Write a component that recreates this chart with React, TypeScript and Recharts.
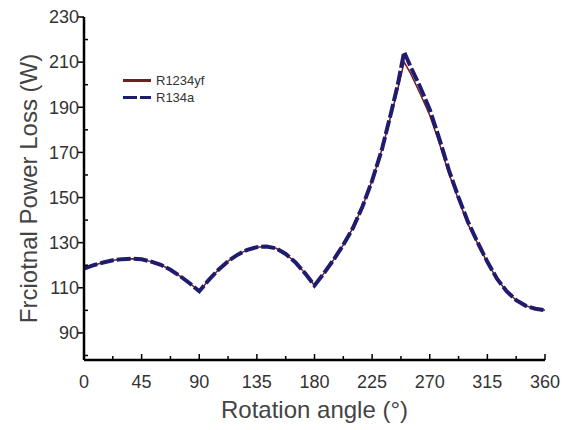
import { Legend, Line, LineChart, XAxis, YAxis } from "recharts"

const angles = [0, 7.5, 15, 22.5, 30, 37.5, 45, 52.5, 60, 67.5, 75, 82.5, 90, 97.5, 105, 112.5, 120, 127.5, 135, 142.5, 150, 157.5, 165, 172.5, 180, 187.5, 195, 202.5, 210, 217.5, 225, 232.5, 240, 245, 250, 255, 262.5, 270, 277.5, 285, 292.5, 300, 307.5, 315, 322.5, 330, 337.5, 345, 352.5, 360]
const r134a = [118.5, 120, 121.2, 122.2, 122.7, 122.9, 122.6, 121.6, 120.2, 118, 115.2, 112, 108.5, 113.5, 118, 121.8, 124.7, 126.8, 128, 128.3, 127.5, 125, 121.3, 116.5, 111, 116.5, 122.5, 129, 136.5, 146, 157.5, 171, 188, 200, 214.5, 208, 199, 189, 176, 162, 150, 139, 130, 121.5, 114, 108.5, 104.5, 102, 100.7, 100]
const r1234yf = [118.5, 120, 121.2, 122.2, 122.7, 122.9, 122.6, 121.6, 120.2, 118, 115.2, 112, 108.5, 113.5, 118, 121.8, 124.7, 126.8, 128, 128.3, 127.5, 125, 121.3, 116.5, 111, 116.5, 122.5, 129, 136.5, 146, 157.5, 171, 187, 198, 210, 205, 196, 186.5, 174, 160.5, 149, 138, 129.5, 121.2, 114, 108.5, 104.5, 102, 100.7, 100]

const xTicks = [0, 22.5, 45, 67.5, 90, 112.5, 135, 157.5, 180, 202.5, 225, 247.5, 270, 292.5, 315, 337.5, 360]
const yTicks = [80, 90, 100, 110, 120, 130, 140, 150, 160, 170, 180, 190, 200, 210, 220, 230]

const data = angles.map((a, i) => ({ angle: a, r134a: r134a[i], r1234yf: r1234yf[i] }))

const font = "'Liberation Sans', Arial, sans-serif"

function XTick(props: any) {
  const { x, y, payload } = props
  const major = payload.value % 45 === 0
  return (
    <g>
      <line x1={x} x2={x} y1={y} y2={y - (major ? 6 : 4)} stroke="#000" strokeWidth={1.5} />
      {major && (
        <text x={x} y={y + 28} textAnchor="middle" fontSize={18} fill="#333" fontFamily={font}>
          {payload.value}
        </text>
      )}
    </g>
  )
}

function YTick(props: any) {
  const { x, y, payload } = props
  const major = (payload.value - 90) % 20 === 0
  return (
    <g>
      {major ? (
        <line x1={x - 6} x2={x} y1={y} y2={y} stroke="#000" strokeWidth={1.5} />
      ) : (
        <line x1={x} x2={x + 4} y1={y} y2={y} stroke="#000" strokeWidth={1.5} />
      )}
      {major && (
        <text x={x - 5} y={y} dy="0.35em" textAnchor="end" fontSize={18} fill="#333" fontFamily={font}>
          {payload.value}
        </text>
      )}
    </g>
  )
}

function LegendBox() {
  return (
    <div style={{ fontFamily: font, fontSize: 13, color: "#333", lineHeight: "17px", width: 120 }}>
      <div style={{ display: "flex", alignItems: "center" }}>
        <svg width={36} height={17} style={{ flexShrink: 0 }}>
          <line x1={3} x2={31} y1={8.5} y2={8.5} stroke="#6e1f1f" strokeWidth={3} />
        </svg>
        <span>R1234yf</span>
      </div>
      <div style={{ display: "flex", alignItems: "center" }}>
        <svg width={36} height={17} style={{ flexShrink: 0 }}>
          <line x1={3} x2={31} y1={8.5} y2={8.5} stroke="#1f1b6e" strokeWidth={3} strokeDasharray="14 3" />
        </svg>
        <span>R134a</span>
      </div>
    </div>
  )
}

export default function App() {
  return (
    <div style={{ position: "absolute", left: 0, top: 0, width: 568, height: 430, background: "#fff" }}>
      <LineChart width={568} height={430} data={data} margin={{ top: 17, right: 23, bottom: 0, left: 0 }}>
        <XAxis
          dataKey="angle"
          type="number"
          domain={[0, 360]}
          ticks={xTicks}
          interval={0}
          height={70}
          tick={<XTick />}
          tickLine={false}
          tickSize={0}
          tickMargin={0}
          axisLine={{ stroke: "#000", strokeWidth: 2.5 }}
          label={{
            value: "Rotation angle (°)",
            position: "insideBottom",
            offset: 12,
            style: { fontSize: 24, fill: "#444", fontFamily: font },
          }}
        />
        <YAxis
          type="number"
          domain={[78, 230]}
          ticks={yTicks}
          interval={0}
          width={84}
          tick={<YTick />}
          tickLine={false}
          tickSize={0}
          tickMargin={0}
          axisLine={{ stroke: "#000", strokeWidth: 2.5 }}
          label={{
            value: "Frciotnal Power Loss (W)",
            angle: -90,
            position: "insideLeft",
            offset: 28,
            style: { fontSize: 24, fill: "#444", fontFamily: font, textAnchor: "middle" },
          }}
        />
        <Legend
          content={<LegendBox />}
          layout="horizontal"
          verticalAlign="middle"
          align="center"
          wrapperStyle={{ position: "absolute", left: 120, top: 72, width: 120 }}
        />
        <Line
          type="linear"
          dataKey="r1234yf"
          name="R1234yf"
          stroke="#6e1f1f"
          strokeWidth={1.5}
          dot={false}
          isAnimationActive={false}
        />
        <Line
          type="linear"
          dataKey="r134a"
          name="R134a"
          stroke="#1f1b6e"
          strokeWidth={4}
          strokeDasharray="14 3"
          dot={false}
          isAnimationActive={false}
        />
      </LineChart>
    </div>
  )
}
